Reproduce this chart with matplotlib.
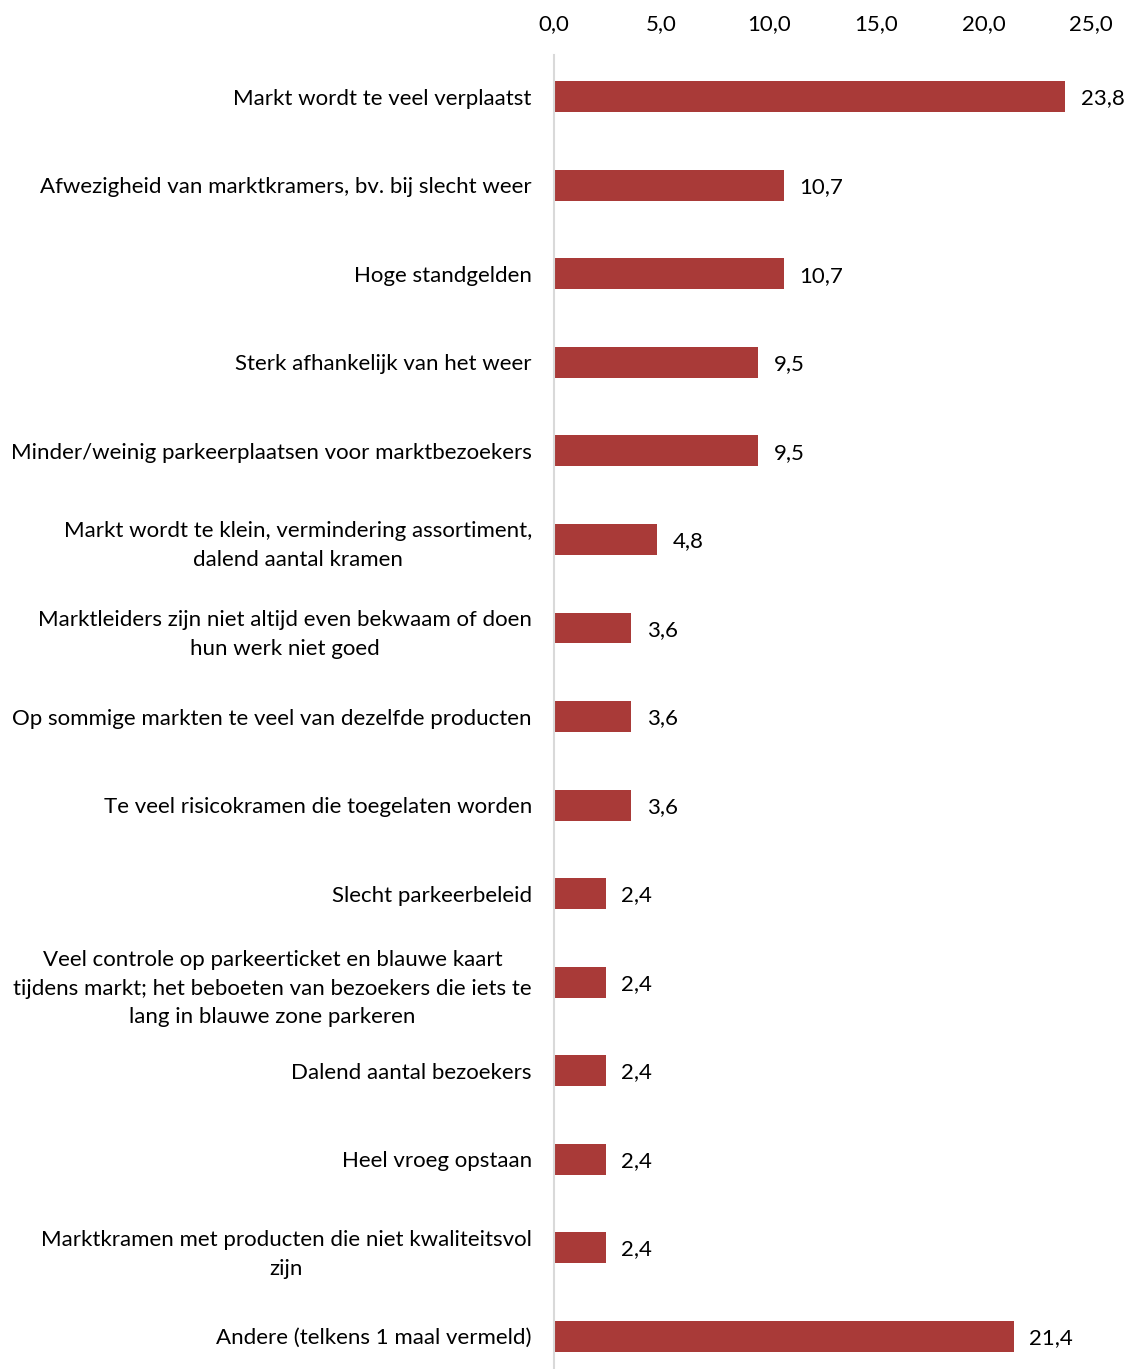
import matplotlib.pyplot as plt
from matplotlib.ticker import FuncFormatter

plt.rcParams['font.family'] = ['Lato', 'DejaVu Sans']

categories = [
    "Markt wordt te veel verplaatst",
    "Afwezigheid van marktkramers, bv. bij slecht weer",
    "Hoge standgelden",
    "Sterk afhankelijk van het weer",
    "Minder/weinig parkeerplaatsen voor marktbezoekers",
    "Markt wordt te klein, vermindering assortiment,\ndalend aantal kramen",
    "Marktleiders zijn niet altijd even bekwaam of doen\nhun werk niet goed",
    "Op sommige markten te veel van dezelfde producten",
    "Te veel risicokramen die toegelaten worden",
    "Slecht parkeerbeleid",
    "Veel controle op parkeerticket en blauwe kaart\ntijdens markt; het beboeten van bezoekers die iets te\nlang in blauwe zone parkeren",
    "Dalend aantal bezoekers",
    "Heel vroeg opstaan",
    "Marktkramen met producten die niet kwaliteitsvol\nzijn",
    "Andere (telkens 1 maal vermeld)",
]
values = [23.8, 10.7, 10.7, 9.5, 9.5, 4.8, 3.6, 3.6, 3.6, 2.4, 2.4, 2.4, 2.4, 2.4, 21.4]
ticks = [0, 5, 10, 15, 20, 25]

fmt = lambda v: f"{v:.1f}".replace(".", ",")

fig = plt.figure(figsize=(11.3, 13.69), dpi=100)
ax = fig.add_axes([0.4903, 0.0, 0.9655 - 0.4903, 0.96])

pos = list(range(len(values)))
ax.barh(pos, values, height=0.35, color="#A93A38")

# value labels just right of each bar
for y, v in zip(pos, values):
    ax.text(v + 0.72, y + 0.02, fmt(v), va="center", ha="left", fontsize=16, color="#000000")

ax.set_xlim(0, 25)
ax.set_ylim(len(values) - 1 + 0.37, -0.475)
ax.set_xticks(ticks)
ax.xaxis.set_major_formatter(FuncFormatter(lambda v, p: fmt(v)))
ax.xaxis.tick_top()
ax.tick_params(axis="x", length=0, pad=15, labelsize=16)
ax.set_yticks(pos)
ax.set_yticklabels(categories, fontsize=16, multialignment="center", linespacing=1.55)
ax.tick_params(axis="y", length=0, pad=16)

for side in ["top", "right", "bottom"]:
    ax.spines[side].set_visible(False)
ax.spines["left"].set_color("#D9D9D9")
ax.spines["left"].set_linewidth(1.5)

fig.savefig("out.png", dpi=100)
